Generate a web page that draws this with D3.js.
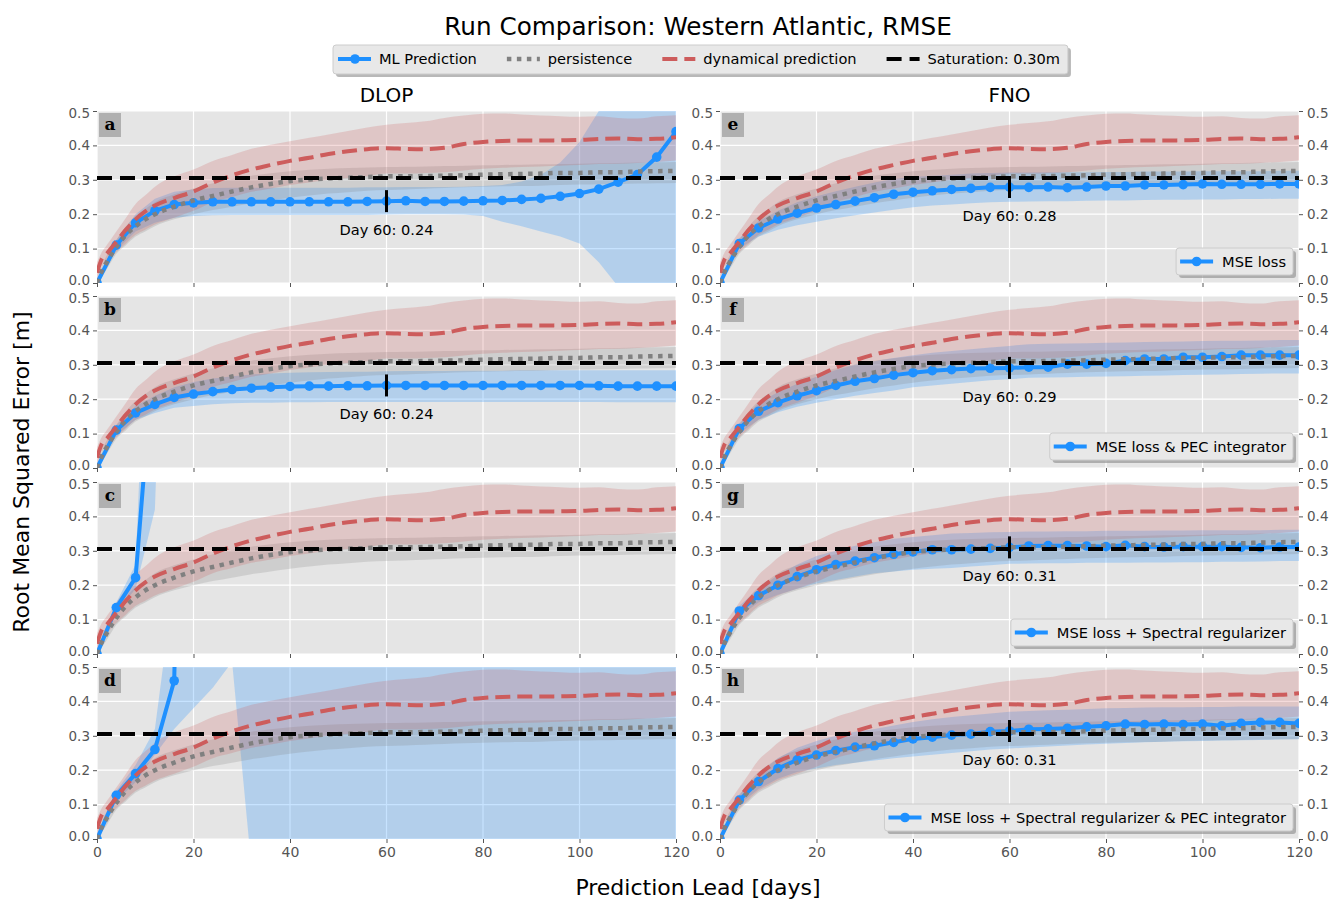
<!DOCTYPE html>
<html>
<head>
<meta charset="utf-8">
<script src="https://cdn.jsdelivr.net/npm/d3@7"></script>
<style>
  body { margin: 0; background: #fff; }
  text { font-family: "DejaVu Sans", sans-serif; }
</style>
</head>
<body>
<svg id="viz"></svg>
<script>
const width = 1336, height = 899;

// lead days for ML runs (every 4 days)
const leadDays = [0,4,8,12,16,20,24,28,32,36,40,44,48,52,56,60,64,68,72,76,80,84,88,92,96,100,104,108,112,116,120];
// lead days for the reference curves
const refDays = [0,1,2,4,6,8,10,12,16,20,24,28,32,36,40,44,48,52,56,60,64,68,72,76,80,84,88,92,96,100,104,108,112,116,120];

const dynMean = [0.03,0.07,0.085,0.12,0.155,0.185,0.208,0.225,0.247,0.266,0.292,0.313,0.33,0.343,0.355,0.364,0.375,0.383,0.389,0.392,0.39,0.389,0.393,0.404,0.41,0.413,0.414,0.414,0.415,0.416,0.419,0.42,0.418,0.419,0.424];
const dynLo = [0.0,0.05,0.06,0.09,0.115,0.14,0.155,0.17,0.19,0.21,0.235,0.25,0.265,0.275,0.285,0.292,0.3,0.305,0.31,0.318,0.318,0.32,0.322,0.327,0.332,0.335,0.337,0.339,0.341,0.343,0.346,0.347,0.349,0.352,0.356];
const dynHi = [0.06,0.09,0.11,0.15,0.19,0.23,0.255,0.28,0.31,0.33,0.355,0.372,0.39,0.402,0.412,0.422,0.432,0.442,0.452,0.46,0.465,0.47,0.48,0.487,0.492,0.493,0.49,0.487,0.485,0.483,0.485,0.48,0.478,0.485,0.488];

const perMean = [0,0.035,0.06,0.105,0.14,0.165,0.185,0.2,0.222,0.24,0.253,0.266,0.278,0.288,0.296,0.301,0.304,0.306,0.308,0.31,0.31,0.311,0.312,0.313,0.315,0.316,0.317,0.318,0.32,0.32,0.322,0.322,0.324,0.325,0.326];
const perLo = [0,0.02,0.04,0.085,0.11,0.135,0.15,0.165,0.185,0.2,0.212,0.222,0.232,0.24,0.248,0.254,0.26,0.264,0.268,0.27,0.272,0.274,0.276,0.278,0.28,0.281,0.282,0.283,0.285,0.286,0.287,0.288,0.289,0.29,0.291];
const perHi = [0,0.05,0.08,0.125,0.165,0.195,0.215,0.235,0.258,0.275,0.29,0.302,0.312,0.319,0.325,0.329,0.332,0.334,0.336,0.337,0.338,0.339,0.34,0.341,0.342,0.343,0.344,0.345,0.346,0.347,0.348,0.349,0.35,0.351,0.352];

const saturation = 0.305;

// ML prediction per panel: mean, lower and upper band
const mlA = [0,0.11,0.175,0.21,0.228,0.233,0.236,0.236,0.236,0.236,0.236,0.236,0.236,0.236,0.237,0.238,0.239,0.237,0.237,0.238,0.239,0.24,0.243,0.246,0.252,0.26,0.273,0.293,0.315,0.366,0.44];
const loA = [0,0.095,0.15,0.175,0.19,0.195,0.197,0.198,0.198,0.198,0.198,0.198,0.198,0.198,0.198,0.199,0.2,0.2,0.2,0.199,0.195,0.178,0.165,0.15,0.135,0.115,0.06,-0.01,-0.08,-0.15,-0.22];
const hiA = [0,0.125,0.2,0.245,0.265,0.272,0.276,0.277,0.277,0.277,0.277,0.277,0.277,0.277,0.278,0.278,0.279,0.279,0.279,0.28,0.282,0.285,0.295,0.315,0.35,0.41,0.5,0.6,0.7,0.82,0.98];

const mlB = [0,0.11,0.16,0.185,0.205,0.215,0.222,0.228,0.232,0.235,0.237,0.238,0.238,0.239,0.239,0.24,0.24,0.24,0.24,0.24,0.24,0.24,0.24,0.24,0.24,0.24,0.239,0.238,0.238,0.238,0.238];
const loB = [0,0.095,0.14,0.16,0.175,0.18,0.185,0.188,0.19,0.19,0.191,0.191,0.192,0.192,0.192,0.192,0.192,0.192,0.192,0.192,0.192,0.192,0.192,0.192,0.192,0.192,0.192,0.191,0.191,0.191,0.191];
const hiB = [0,0.125,0.18,0.21,0.235,0.25,0.26,0.267,0.272,0.275,0.277,0.278,0.279,0.28,0.28,0.281,0.282,0.282,0.282,0.283,0.283,0.283,0.284,0.284,0.284,0.284,0.284,0.284,0.284,0.284,0.284];

const daysC = [0,4,8,12,16];
const mlC = [0,0.135,0.222,0.92,2.4];
const loC = [0,0.12,0.19,0.42,2.0];
const hiC = [0,0.15,0.26,1.6,4.0];

const daysD = [0,4,8,12,16,20];
const mlD = [0,0.127,0.19,0.26,0.46,3.0];
const loD = [0,0.11,0.165,0.245,0.32,0.38,0.44,0.515,-0.08,-0.6,-1.1,-1.5,-1.9,-2.2,-2.5,-2.8,-3.0,-3.2,-3.4,-3.6,-3.8,-4.0,-4.2,-4.4,-4.6,-4.8,-5.0,-5.2,-5.4,-5.6,-5.8];
const hiD = [0,0.14,0.215,0.32,0.75,1.3,1.9,2.5,3.1,3.6,4.1,4.5,4.9,5.3,5.6,5.9,6.2,6.5,6.8,7.1,7.4,7.7,8.0,8.3,8.6,8.9,9.2,9.5,9.8,10.1,10.4];

const mlE = [0,0.115,0.16,0.186,0.203,0.218,0.228,0.238,0.248,0.258,0.264,0.268,0.272,0.275,0.278,0.279,0.278,0.279,0.277,0.279,0.282,0.282,0.285,0.285,0.286,0.288,0.287,0.287,0.287,0.288,0.288];
const loE = [0,0.1,0.135,0.155,0.168,0.178,0.188,0.197,0.205,0.213,0.22,0.225,0.228,0.232,0.235,0.236,0.237,0.238,0.238,0.239,0.24,0.24,0.241,0.242,0.242,0.243,0.243,0.244,0.244,0.245,0.245];
const hiE = [0,0.13,0.18,0.21,0.235,0.252,0.267,0.28,0.292,0.302,0.308,0.312,0.315,0.318,0.32,0.321,0.321,0.322,0.322,0.322,0.323,0.323,0.324,0.324,0.324,0.325,0.325,0.325,0.325,0.326,0.326];

const mlF = [0,0.115,0.165,0.19,0.21,0.225,0.24,0.252,0.26,0.27,0.277,0.283,0.286,0.289,0.29,0.291,0.293,0.293,0.302,0.302,0.304,0.312,0.317,0.317,0.322,0.322,0.324,0.328,0.328,0.328,0.328];
const loF = [0,0.1,0.14,0.162,0.178,0.19,0.2,0.21,0.218,0.225,0.235,0.24,0.245,0.25,0.255,0.258,0.262,0.263,0.264,0.265,0.266,0.267,0.268,0.269,0.27,0.271,0.272,0.273,0.274,0.275,0.275];
const hiF = [0,0.13,0.19,0.22,0.245,0.265,0.285,0.3,0.31,0.32,0.328,0.335,0.34,0.345,0.35,0.355,0.36,0.361,0.362,0.363,0.364,0.365,0.366,0.367,0.368,0.369,0.37,0.37,0.371,0.372,0.372];

const mlG = [0,0.125,0.17,0.2,0.225,0.245,0.26,0.27,0.28,0.29,0.297,0.303,0.303,0.305,0.307,0.31,0.314,0.315,0.315,0.314,0.312,0.316,0.312,0.311,0.312,0.312,0.312,0.31,0.309,0.311,0.311];
const loG = [0,0.11,0.15,0.172,0.19,0.205,0.215,0.225,0.235,0.24,0.245,0.248,0.25,0.254,0.258,0.262,0.263,0.264,0.264,0.265,0.265,0.265,0.266,0.266,0.267,0.267,0.268,0.268,0.269,0.27,0.27];
const hiG = [0,0.14,0.19,0.23,0.26,0.285,0.3,0.315,0.325,0.335,0.34,0.345,0.35,0.352,0.354,0.355,0.356,0.356,0.357,0.357,0.358,0.358,0.358,0.359,0.359,0.36,0.36,0.36,0.36,0.361,0.361];

const mlH = [0,0.113,0.167,0.205,0.23,0.244,0.257,0.267,0.271,0.281,0.291,0.296,0.302,0.305,0.312,0.314,0.319,0.32,0.322,0.326,0.329,0.334,0.333,0.334,0.333,0.334,0.329,0.336,0.339,0.339,0.336];
const loH = [0,0.1,0.145,0.175,0.195,0.205,0.215,0.222,0.228,0.235,0.24,0.245,0.25,0.255,0.26,0.263,0.266,0.269,0.272,0.275,0.277,0.279,0.281,0.283,0.284,0.285,0.286,0.287,0.288,0.289,0.29];
const hiH = [0,0.13,0.19,0.235,0.265,0.285,0.3,0.312,0.32,0.33,0.34,0.348,0.355,0.36,0.365,0.37,0.372,0.374,0.376,0.378,0.38,0.381,0.382,0.383,0.383,0.384,0.384,0.385,0.385,0.385,0.385];

const panelKeys = ["a","b","c","d","e","f","g","h"];
const colTitles = ["DLOP", "FNO"];
const legendNames = [null, null, null, null, "MSE loss", "MSE loss & PEC integrator", "MSE loss + Spectral regularizer", "MSE loss + Spectral regularizer & PEC integrator"];
const xTicks = [0,20,40,60,80,100,120];
const yTicks = [0,0.1,0.2,0.3,0.4,0.5];

const panels = [
  {days: leadDays, ml: mlA, bandDays: leadDays, lo: loA, hi: hiA, note: true},
  {days: leadDays, ml: mlB, bandDays: leadDays, lo: loB, hi: hiB, note: true},
  {days: daysC, ml: mlC, bandDays: daysC, lo: loC, hi: hiC, note: false},
  {days: daysD, ml: mlD, bandDays: leadDays, lo: loD, hi: hiD, note: false},
  {days: leadDays, ml: mlE, bandDays: leadDays, lo: loE, hi: hiE, note: true},
  {days: leadDays, ml: mlF, bandDays: leadDays, lo: loF, hi: hiF, note: true},
  {days: leadDays, ml: mlG, bandDays: leadDays, lo: loG, hi: hiG, note: true},
  {days: leadDays, ml: mlH, bandDays: leadDays, lo: loH, hi: hiH, note: true}
];

const blue = "#1e90ff", red = "#cd5c5c", grey = "#808080";
const colRange = [[97, 676], [720, 1299]];
const rowTop = [111, 296, 482, 667];
const ph = 172;
const smallFont = "14.6px";

const svg = d3.select("#viz").attr("width", width).attr("height", height);

svg.append("text")
  .attr("x", 698).attr("y", 35)
  .attr("text-anchor", "middle")
  .style("font-size", "24.7px")
  .text("Run Comparison: Western Atlantic, RMSE");

colTitles.forEach((t, i) => {
  svg.append("text")
    .attr("x", (colRange[i][0] + colRange[i][1]) / 2).attr("y", 102)
    .attr("text-anchor", "middle")
    .style("font-size", "20px")
    .text(t);
});

svg.append("text")
  .attr("transform", "translate(29,472) rotate(-90)")
  .attr("text-anchor", "middle")
  .style("font-size", "22px")
  .text("Root Mean Squared Error [m]");

svg.append("text")
  .attr("x", 698).attr("y", 895)
  .attr("text-anchor", "middle")
  .style("font-size", "22px")
  .text("Prediction Lead [days]");

const defs = svg.append("defs");

// nudge the stacked 0.0 / 0.5 labels apart a little
function nudge(d) {
  if (d === 0) return -2.5;
  if (d === 0.5) return 2.5;
  return 0;
}

panels.forEach((p, i) => {
  const col = Math.floor(i / 4), row = i % 4;
  const x = d3.scaleLinear().domain([0, 120]).range(colRange[col]);
  const y = d3.scaleLinear().domain([0, 0.5]).range([rowTop[row] + ph, rowTop[row]]);
  const x0 = colRange[col][0], x1 = colRange[col][1], top = rowTop[row];

  const g = svg.append("g");
  g.append("rect")
    .attr("x", x0).attr("y", top)
    .attr("width", x1 - x0).attr("height", ph)
    .attr("fill", "#e5e5e5");

  // grid
  g.selectAll(".gx").data(xTicks).enter().append("line")
    .attr("x1", d => x(d)).attr("x2", d => x(d))
    .attr("y1", top).attr("y2", top + ph)
    .attr("stroke", "#fff").attr("stroke-width", 1.2);
  g.selectAll(".gy").data(yTicks).enter().append("line")
    .attr("x1", x0).attr("x2", x1)
    .attr("y1", d => y(d)).attr("y2", d => y(d))
    .attr("stroke", "#fff").attr("stroke-width", 1.2);

  // axes
  const xAxis = d3.axisBottom(x).tickValues(xTicks).tickSize(4).tickSizeOuter(0).tickPadding(4)
    .tickFormat(row === 3 ? d3.format("d") : "");
  const ax = g.append("g").attr("transform", `translate(0,${top + ph})`).call(xAxis);
  ax.select(".domain").remove();
  ax.selectAll("line").attr("stroke", "#555");
  ax.selectAll("text").attr("fill", "#555").style("font-size", "14px");

  const yAxes = [g.append("g").attr("transform", `translate(${x0},0)`)
    .call(d3.axisLeft(y).tickValues(yTicks).tickSize(4).tickSizeOuter(0).tickPadding(3)
      .tickFormat(d3.format(".1f")))];
  if (col === 1) {
    yAxes.push(g.append("g").attr("transform", `translate(${x1},0)`)
      .call(d3.axisRight(y).tickValues(yTicks).tickSize(4).tickSizeOuter(0).tickPadding(4)
        .tickFormat(d3.format(".1f"))));
  }
  yAxes.forEach(a => {
    a.select(".domain").remove();
    a.selectAll("line").attr("stroke", "#555");
    a.selectAll("text").attr("fill", "#555").style("font-size", "13.5px")
      .attr("dy", d => (0.32 + nudge(d) / 13.5) + "em");
  });

  defs.append("clipPath").attr("id", "clip" + i)
    .append("rect").attr("x", x0).attr("y", top).attr("width", x1 - x0).attr("height", ph);
  const plot = g.append("g").attr("clip-path", `url(#clip${i})`);

  const refArea = d3.area().curve(d3.curveMonotoneX)
    .x((d, k) => x(refDays[k])).y0((d, k) => y(d[0])).y1((d, k) => y(d[1]));
  const refLine = d3.line().curve(d3.curveMonotoneX)
    .x((d, k) => x(refDays[k])).y(d => y(d));

  // bands
  const mlBand = p.lo.map((v, k) => [p.bandDays[k], v, p.hi[k]]);
  plot.append("path")
    .attr("d", d3.area().x(d => x(d[0])).y0(d => y(d[1])).y1(d => y(d[2]))(mlBand))
    .attr("fill", blue).attr("fill-opacity", 0.25);
  plot.append("path")
    .attr("d", refArea(perLo.map((v, k) => [v, perHi[k]])))
    .attr("fill", grey).attr("fill-opacity", 0.22);
  plot.append("path")
    .attr("d", refArea(dynLo.map((v, k) => [v, dynHi[k]])))
    .attr("fill", red).attr("fill-opacity", 0.22);

  // lines
  const mlPts = p.ml.map((v, k) => [p.days[k], v]);
  plot.append("path")
    .attr("d", d3.line().x(d => x(d[0])).y(d => y(d[1]))(mlPts))
    .attr("fill", "none").attr("stroke", blue).attr("stroke-width", 4);
  plot.selectAll(".mk").data(mlPts).enter().append("circle")
    .attr("cx", d => x(d[0])).attr("cy", d => y(d[1])).attr("r", 4.8)
    .attr("fill", blue);
  plot.append("path")
    .attr("d", refLine(perMean))
    .attr("fill", "none").attr("stroke", grey).attr("stroke-width", 4.5)
    .attr("stroke-dasharray", "4.5,5.5");
  plot.append("path")
    .attr("d", refLine(dynMean))
    .attr("fill", "none").attr("stroke", red).attr("stroke-width", 4)
    .attr("stroke-dasharray", "15,7");
  plot.append("line")
    .attr("x1", x(0)).attr("x2", x(120))
    .attr("y1", y(saturation)).attr("y2", y(saturation))
    .attr("stroke", "#000").attr("stroke-width", 4)
    .attr("stroke-dasharray", "15,8");

  // day 60 marker
  if (p.note) {
    const k = p.days.indexOf(60);
    const v = p.ml[k];
    g.append("line")
      .attr("x1", x(60)).attr("x2", x(60))
      .attr("y1", y(v) - 11).attr("y2", y(v) + 11)
      .attr("stroke", "#000").attr("stroke-width", 3);
    g.append("text")
      .attr("x", x(60)).attr("y", y(v) + 34)
      .attr("text-anchor", "middle")
      .style("font-size", smallFont)
      .text(`Day 60: ${d3.format(".2f")(v)}`);
  }

  // panel letter
  g.append("rect")
    .attr("x", x0 + 2).attr("y", top + 2).attr("width", 22).attr("height", 24)
    .attr("fill", "#b0b0b0");
  g.append("text")
    .attr("x", x0 + 13).attr("y", top + 19)
    .attr("text-anchor", "middle")
    .style("font-family", "DejaVu Serif").style("font-weight", "bold").style("font-size", "17px")
    .text(panelKeys[i]);

  // panel legend
  if (legendNames[i]) {
    const lg = g.append("g");
    const t = lg.append("text")
      .attr("y", top + ph - 16)
      .style("font-size", smallFont)
      .text(legendNames[i]);
    const tw = t.node().getComputedTextLength();
    const bw = tw + 53, bh = 27;
    const bx = x1 - 6 - bw, by = top + ph - 8 - bh;
    lg.insert("rect", "text")
      .attr("x", bx + 3).attr("y", by + 3).attr("width", bw).attr("height", bh).attr("rx", 3)
      .attr("fill", "#888").attr("fill-opacity", 0.6);
    lg.insert("rect", "text")
      .attr("x", bx).attr("y", by).attr("width", bw).attr("height", bh).attr("rx", 3)
      .attr("fill", "#e8e8e8").attr("stroke", "#ccc");
    t.attr("x", bx + 46);
    lg.append("line")
      .attr("x1", bx + 4).attr("x2", bx + 37)
      .attr("y1", by + bh / 2).attr("y2", by + bh / 2)
      .attr("stroke", blue).attr("stroke-width", 4);
    lg.append("circle")
      .attr("cx", bx + 20.5).attr("cy", by + bh / 2).attr("r", 4.8).attr("fill", blue);
  }
});

// top legend
const legItems = [
  {name: "ML Prediction", color: blue, dash: null, marker: true, w: 4},
  {name: "persistence", color: grey, dash: "4.5,5.5", marker: false, w: 4.5},
  {name: "dynamical prediction", color: red, dash: "15,7", marker: false, w: 4},
  {name: "Saturation: 0.30m", color: "#000", dash: "15,8", marker: false, w: 4}
];
const topLeg = svg.append("g");
const legShadow = topLeg.append("rect");
const legBox = topLeg.append("rect");
let lx = 338;
const ly = 59;
legItems.forEach(it => {
  topLeg.append("line")
    .attr("x1", lx).attr("x2", lx + 33)
    .attr("y1", ly).attr("y2", ly)
    .attr("stroke", it.color).attr("stroke-width", it.w)
    .attr("stroke-dasharray", it.dash);
  if (it.marker) {
    topLeg.append("circle").attr("cx", lx + 17).attr("cy", ly).attr("r", 4.8).attr("fill", it.color);
  }
  const t = topLeg.append("text")
    .attr("x", lx + 41).attr("y", ly + 5)
    .style("font-size", smallFont)
    .text(it.name);
  lx += 41 + t.node().getComputedTextLength() + 30;
});
const legRight = lx - 30 + 8;
legShadow.attr("x", 336).attr("y", 48).attr("width", legRight - 333).attr("height", 29).attr("rx", 3)
  .attr("fill", "#888").attr("fill-opacity", 0.6);
legBox.attr("x", 333).attr("y", 45).attr("width", legRight - 333).attr("height", 29).attr("rx", 3)
  .attr("fill", "#e8e8e8").attr("stroke", "#ccc");
</script>
</body>
</html>
